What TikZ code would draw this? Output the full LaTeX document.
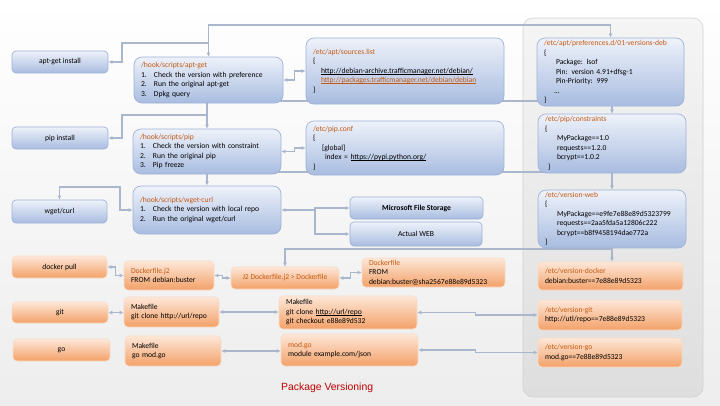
\documentclass[tikz,border=0pt]{standalone}
\usepackage{fontspec}
\setmainfont{Carlito}
\newfontfamily\titlefont{Liberation Sans}
\usetikzlibrary{arrows.meta}
\definecolor{hdr}{HTML}{C55A11}
\definecolor{wire}{HTML}{A9B6CC}
\definecolor{blueedge}{HTML}{9FB2D6}
\definecolor{bluetop}{HTML}{EEF2FA}
\definecolor{bluebot}{HTML}{A8BCE0}
\definecolor{orangetop}{HTML}{FDE7D8}
\definecolor{orangebot}{HTML}{F3A168}
\definecolor{orangeedge}{HTML}{FADBC6}
\definecolor{titlered}{HTML}{C00000}
\newcommand\itemno[1]{\makebox[13pt][l]{#1}}
\newcommand\urlline[2]{\setbox0\hbox{#2}\rlap{\color{#1}\rule[-1.6pt]{\wd0}{1.1pt}}\box0}
\pgfdeclarelayer{back}
\pgfdeclarelayer{wires}
\pgfsetlayers{back,wires,main}
\tikzset{
	every node/.style={font=\fontsize{7.6}{9.5}\selectfont, inner xsep=7pt, inner ysep=2pt},
	bluebox/.style={draw=blueedge, line width=0.7pt, rounded corners=8pt, top color=bluetop, bottom color=bluebot},
	orangebox/.style={draw=orangeedge, line width=0.6pt, rounded corners=4pt, top color=orangetop, bottom color=orangebot},
	leftbox/.style={align=left, text width=#1},
	link/.style={draw=wire, line width=1.1pt, >={Latex[length=4pt,width=4pt]}},
}

\begin{document}
\begin{tikzpicture}[x=1pt, y=-1pt]
			%%%%% START %%%%%
			\useasboundingbox (0,0) rectangle (720,405);
			\begin{pgfonlayer}{back}
				\shade[top color=white, bottom color=black!7] (0,0) rectangle (720,405);
				\draw[draw=black!18, line width=0.6pt, rounded corners=10pt, top color=black!4, bottom color=black!13] (523,18) rectangle (703,397);
			\end{pgfonlayer}
			
			% commands
			\node[bluebox, rounded corners=4pt, minimum width=96pt, minimum height=22pt] (aptinst) at (60,62) {apt-get install};
			\node[bluebox, rounded corners=4pt, minimum width=96pt, minimum height=22pt] (pipinst) at (60,138) {pip install};
			\node[bluebox, rounded corners=4pt, minimum width=95pt, minimum height=23pt] (wgetinst) at (59.5,211.5) {wget/curl};
			\node[orangebox, minimum width=95pt, minimum height=22pt] (dockpull) at (59.5,267) {docker pull};
			\node[orangebox, minimum width=96pt, minimum height=21pt] (git) at (60,312.5) {git};
			\node[orangebox, minimum width=97pt, minimum height=22pt] (go) at (61.5,350) {go};
			
			% hooks
			\node[bluebox, leftbox=135pt, minimum height=46pt] (apthook) at (208.5,80) {{\color{hdr}/hook/scripts/apt-get}\\\itemno{1.}Check the version with preference\\\itemno{2.}Run the original apt-get\\\itemno{3.}Dpkg query};
			\node[bluebox, leftbox=134pt, minimum height=45pt] (piphook) at (207,151.5) {{\color{hdr}/hook/scripts/pip}\\\itemno{1.}Check the version with constraint\\\itemno{2.}Run the original pip\\\itemno{3.}Pip freeze};
			\node[bluebox, leftbox=134pt, minimum height=48pt] (wgethook) at (207,210) {{\color{hdr}/hook/scripts/wget-curl}\\\itemno{1.}Check the version with local repo\\\itemno{2.}Run the original wget/curl};
			\node[orangebox, leftbox=76pt, minimum height=29pt] (dockj2) at (169,275.5) {{\color{hdr}Dockerfile.j2}\\FROM debian:buster};
			\node[orangebox, leftbox=81pt, minimum height=30pt] (make1) at (171.5,312) {Makefile\\git clone http://url/repo};
			\node[orangebox, leftbox=82pt, minimum height=30pt] (make3) at (173,351) {Makefile\\go mod.go};
			
			% sources
			\node[bluebox, leftbox=184pt, minimum height=66pt] (sources) at (405,71) {{\color{hdr}/etc/apt/sources.list}\\\{\\\hspace*{8pt}\urlline{black}{http://debian-archive.trafficmanager.net/debian/}\\\hspace*{8pt}{\color{hdr}\urlline{hdr}{http://packages.trafficmanager.net/debian/debian}}\\\}};
			\node[bluebox, leftbox=184pt, minimum height=54pt] (pipconf) at (405,148) {{\color{hdr}/etc/pip.conf}\\\{\\\hspace*{9pt}[global]\\\hspace*{12pt}index = \urlline{black}{https://pypi.python.org/}\\\}};
			\node[bluebox, rounded corners=4pt, minimum width=133pt, minimum height=22pt] (mfs) at (416.5,208) {\bfseries Microsoft File Storage};
			\node[bluebox, rounded corners=4pt, minimum width=132pt, minimum height=24pt] (actual) at (416,234) {Actual WEB};
			\node[orangebox, minimum width=108pt, minimum height=22pt] (j2) at (285,278) {\color{hdr}J2 Dockerfile.j2 > Dockerfile};
			\node[orangebox, leftbox=129pt, minimum height=29pt, inner ysep=1pt] (dockfile) at (433.5,272.5) {{\color{hdr}Dockerfile}\\FROM\\debian:buster@sha2567e88e89d5323};
			\node[orangebox, leftbox=124pt, minimum height=33pt, inner ysep=1pt] (make2) at (348,312.5) {Makefile\\git clone \urlline{black}{http://url/repo}\\git checkout e88e89d532};
			\node[orangebox, leftbox=123pt, minimum height=32pt] (modgo) at (349.5,350) {{\color{hdr}mod.go}\\module example.com/json};
			
			% versions
			\node[bluebox, leftbox=133pt, minimum height=68pt] (prefs) at (610.5,72) {{\color{hdr}/etc/apt/preferences.d/01-versions-deb}\\\{\\\hspace*{12pt}Package: lsof\\\hspace*{12pt}Pin: version 4.91+dfsg-1\\\hspace*{12pt}Pin-Priority: 999\\\hspace*{10pt}...\\\}};
			\node[bluebox, leftbox=134pt, minimum height=59pt] (cons) at (612,143.5) {{\color{hdr}/etc/pip/constraints}\\\{\\\hspace*{12pt}MyPackage==1.0\\\hspace*{12pt}requests==1.2.0\\\hspace*{12pt}bcrypt==1.0.2\\\hspace*{3pt}\}};
			\node[bluebox, leftbox=134pt, minimum height=56pt] (web) at (612,219) {{\color{hdr}/etc/version-web}\\\{\\\hspace*{12pt}MyPackage==e9fe7e88e89d5323799\\\hspace*{12pt}requests==2aa5fda5a12806c222\\\hspace*{12pt}bcrypt==b8f9458194dae772a\\\}};
			\node[orangebox, leftbox=131pt, minimum height=28pt] (vdocker) at (610.5,276) {{\color{hdr}/etc/version-docker}\\debian:buster==7e88e89d5323};
			\node[orangebox, leftbox=130pt, minimum height=30pt] (vgit) at (610,315) {{\color{hdr}/etc/version-git}\\http://utl/repo==7e88e89d5323};
			\node[orangebox, leftbox=130pt, minimum height=29pt] (vgo) at (610,352.5) {{\color{hdr}/etc/version-go}\\mod.go==7e88e89d5323};
			
			\node[font=\titlefont\fontsize{10.4}{12}\selectfont, text=titlered, anchor=west, inner sep=0pt] (title) at (281,388) {Package Versioning};
			
			% connectors
			\coordinate (aptbus) at (208.5,25);
			\coordinate (aptfork) at (208.5,43);
			\coordinate (aptturn) at (122,43);
			\coordinate (pipbus) at (207,101);
			\coordinate (pipfork) at (207,115);
			\coordinate (pipturn) at (122,115);
			\coordinate (wgetbus) at (207,172);
			\coordinate (wgetturn) at (120,187);
			\coordinate (websplit) at (315,210);
			\coordinate (dockbus) at (285,249);
			\begin{pgfonlayer}{wires}
				\draw[link,<->] (apthook.north) -- (aptbus) -| (prefs.north);
				\draw[link,->] (aptfork) -- (aptturn) |- (aptinst.east);
				\draw[link,->] (pipbus) -- (piphook.north);
				\draw[link,->] (pipbus) -| (cons.north);
				\draw[link,->] (pipfork) -- (pipturn) |- (pipinst.east);
				\draw[link,->] (wgetbus) -- (wgethook.north);
				\draw[link,->] (wgetbus) -| (web.north);
				\draw[link,<->] (wgetinst.north) |- (wgetturn) |- (wgethook.west);
				
				\draw[link,<->] (apthook.east) -- ++(11,0) |- (sources.west);
				\draw[link,<->] (piphook.east) -- ++(13,0) |- (pipconf.west);
				\draw[link,<->] (wgethook.east) -- (websplit) |- (mfs.west);
				\draw[link,->] (websplit) |- (actual.west);
				
				\draw[link,->] (web.south) -- (web.south |- vdocker.north);
				\draw[link,->] (web.south |- dockbus) -| (j2.north);
				\draw[link,<->] (dockpull.east) -- ++(8,0) |- (dockj2.west);
				\draw[link,<->] (dockj2.east) -- ++(8,0) |- (j2.west);
				\draw[link,<->] (j2.east) -- ++(11,0) |- (dockfile.west);
				
				\draw[link,<->] (git.east) -- (git.east -| make1.west);
				\draw[link,<->] (make1.east) -- (make1.east -| make2.west);
				\draw[link,<->] (make2.east) -- ++(58,0) |- (vgit.west);
				\draw[link,<->] (make3.east) -- (make3.east -| modgo.west);
				\draw[link,<->] (modgo.east) -- ++(57,0) |- (vgo.west);
			\end{pgfonlayer}
			%%%%% END %%%%%
\end{tikzpicture}
\end{document}
